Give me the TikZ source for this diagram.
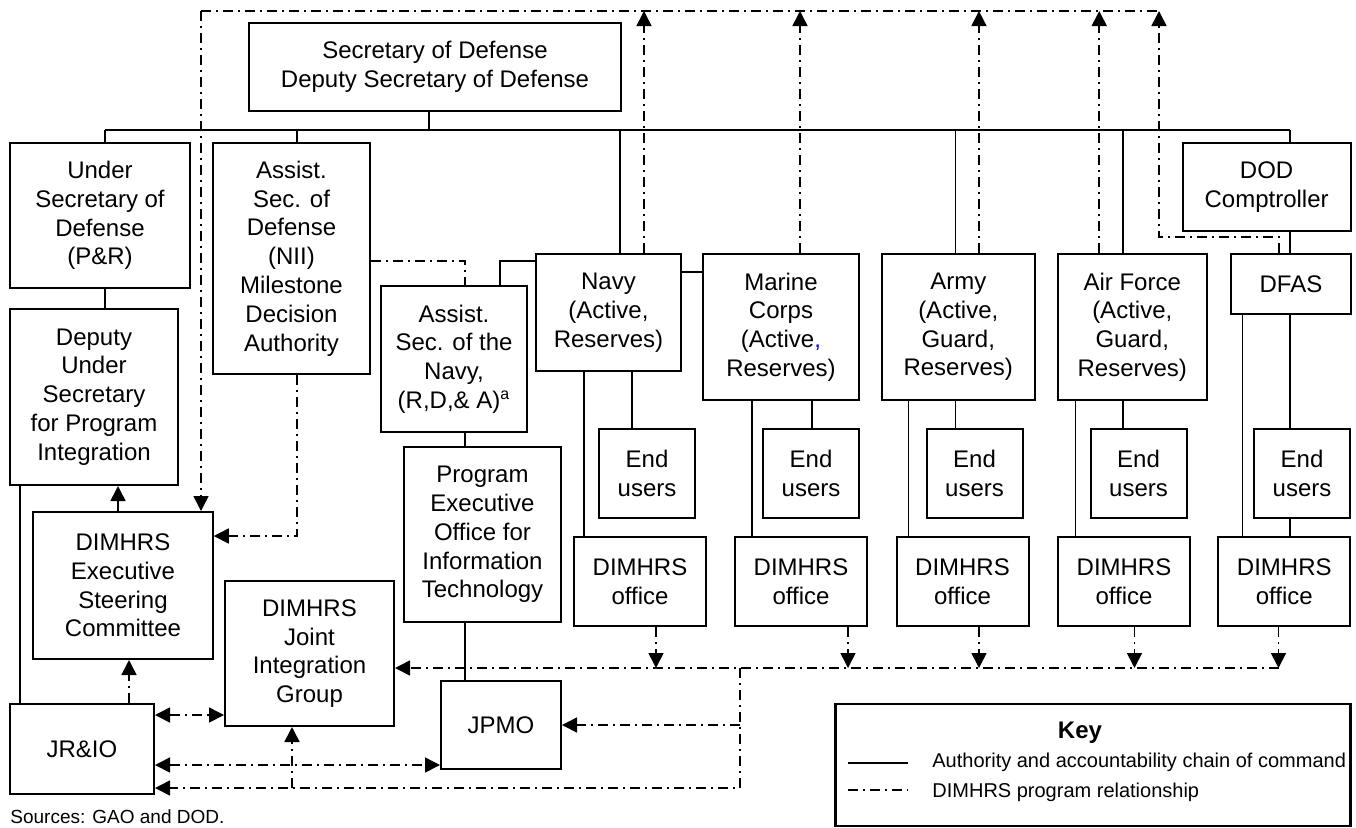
\documentclass[tikz,border=0pt]{standalone}
\usepackage{fontspec}
\setmainfont{Liberation Sans}
\usetikzlibrary{arrows.meta}

\begin{document}
\begin{tikzpicture}[x=0.5pt,y=-0.5pt,
  >={Triangle[length=7.5pt,width=7.5pt]},
  box/.style={draw, line width=1pt, align=center, inner sep=0pt, font=\fontsize{12}{14.4}\selectfont},
  cmd/.style={line width=0.7pt},
  prog/.style={line width=0.8pt, dash pattern=on 5pt off 2.5pt on 1pt off 2.5pt}]
\useasboundingbox (0,0) rectangle (1356,827);

\node[box, minimum width=185.75pt, minimum height=44pt] (sec) at (435,67) {Secretary of Defense\\Deputy Secretary of Defense};
\node[box, minimum width=90pt, minimum height=72.5pt] (usd) at (100,215.5) {Under\\Secretary of\\Defense\\(P\&R)};
\node[box, minimum width=78.5pt, minimum height=115.5pt] (nii) at (291.5,258.5) {Assist.\\Sec. of\\Defense\\(NII)\\Milestone\\Decision\\Authority};
\node[box, minimum width=84pt, minimum height=88pt] (dusd) at (94,397) {Deputy\\Under\\Secretary\\for Program\\Integration};
\node[box, minimum width=89.75pt, minimum height=73.5pt] (esc) at (123,585.5) {DIMHRS\\Executive\\Steering\\Committee};
\node[box, minimum width=84.5pt, minimum height=72.5pt] (jig) at (309.5,653.5) {DIMHRS\\Joint\\Integration\\Group};
\node[box, minimum width=72pt, minimum height=45pt] (jrio) at (82,749) {JR\&IO};
\node[box, minimum width=73pt, minimum height=73pt] (asn) at (454,359) {Assist.\\Sec. of the\\Navy,\\(R,D,\& A)\textsuperscript{a}};
\node[box, minimum width=78.5pt, minimum height=87.5pt] (peo) at (482.5,534.5) {Program\\Executive\\Office for\\Information\\Technology};
\node[box, minimum width=60pt, minimum height=44pt] (jpmo) at (501,725) {JPMO};

\node[box, minimum width=72.5pt, minimum height=58.5pt] (navy) at (608.5,312.5) {Navy\\(Active,\\Reserves)};
\node[box, minimum width=78pt, minimum height=73pt] (marine) at (781,327) {Marine\\Corps\\(Active\textcolor{blue}{,}\\Reserves)};
\node[box, minimum width=76.25pt, minimum height=73pt] (army) at (958.25,327) {Army\\(Active,\\Guard,\\Reserves)};
\node[box, minimum width=74.75pt, minimum height=73pt] (af) at (1132.25,327) {Air Force\\(Active,\\Guard,\\Reserves)};
\node[box, minimum width=59.8pt, minimum height=30pt] (dfas) at (1291,284) {DFAS};
\node[box, minimum width=84pt, minimum height=44pt] (comp) at (1266.6,187) {DOD\\Comptroller};

\foreach \n/\x in {navy/647, marine/811, army/974.5, af/1138.5, dfas/1302}
  \node[box, minimum width=48pt, minimum height=44.5pt] (eu\n) at (\x,473.5) {End\\users};
\foreach \n/\x in {navy/640, marine/801, army/962.5, af/1124, dfas/1284.3}
  \node[box, minimum width=66pt, minimum height=44.5pt] (off\n) at (\x,581.5) {DIMHRS\\office};

% chain of command
\coordinate (busL) at (105,130);
\coordinate (busR) at (1290,130);
\draw[cmd] (busL) -- (busR);
\draw[cmd] ([xshift=-3pt]sec.south) -- ([xshift=-3pt]sec.south |- busL);
\draw[cmd] (busL) -- (busL |- usd.north);
\draw[cmd] (busL |- usd.south) -- (busL |- dusd.north);
\draw[cmd] ([xshift=2.75pt]nii.north) -- ([xshift=2.75pt]nii.north |- busL);
\draw[cmd] ([xshift=5.75pt]navy.north) -- ([xshift=5.75pt]navy.north |- busL);
\draw[cmd] ([xshift=-1.5pt]army.north) -- ([xshift=-1.5pt]army.north |- busL);
\draw[cmd] ([xshift=-4.6pt]af.north) -- ([xshift=-4.6pt]af.north |- busL);
\draw[cmd] (busR) -- (busR |- comp.north);
\draw[cmd] (busR |- comp.south) -- (busR |- dfas.north);
\draw[cmd] ([xshift=5.5pt]dusd.south west) -- ([xshift=5.5pt]jrio.north west);
\coordinate (navyL) at ([yshift=-4pt]navy.north west);
\draw[cmd] (navyL) -| ([xshift=23pt]asn.north);
\draw[cmd] ([yshift=-9.5pt]navy.north east) -- ([yshift=-9.5pt]marine.north west);
\coordinate (peoX) at ([xshift=5.5pt]asn.south);
\draw[cmd] (peoX) -- (peoX |- peo.north);
\draw[cmd] (peoX |- peo.south) -- (peoX |- jpmo.north);
\foreach \n/\a/\b in {navy/-12.25/11.75, marine/-14.6/15.5, army/-25/-1.5, af/-28.5/-4.6, dfas/-24.25/-0.5} {
  \draw[cmd] ([xshift=\a pt]\n.south) -- ([xshift=\a pt]\n.south |- off\n.north);
  \draw[cmd] ([xshift=\b pt]\n.south) -- ([xshift=\b pt]\n.south |- eu\n.north);
}
\draw[cmd] ([xshift=-0.5pt]dfas.south |- eudfas.south) -- ([xshift=-0.5pt]dfas.south |- offdfas.north);

% DIMHRS program relationship
\coordinate (topL) at (201,11);
\coordinate (topR) at (1159,11);
\draw[prog] (topL) -- (topR);
\draw[prog,->] (topL) -- (topL |- esc.north);
\draw[prog,->] ([xshift=17.75pt]navy.north) -- ([xshift=17.75pt]navy.north |- topL);
\draw[prog,->] ([xshift=9.5pt]marine.north) -- ([xshift=9.5pt]marine.north |- topL);
\draw[prog,->] ([xshift=10.35pt]army.north) -- ([xshift=10.35pt]army.north |- topL);
\draw[prog,->] ([xshift=-16.5pt]af.north) -- ([xshift=-16.5pt]af.north |- topL);
\draw[prog,->] ([xshift=-6pt]dfas.north) -- ++(0,-16) -| (topR);
\draw[prog] (nii.east |- navyL) -| (peoX |- asn.north);
\coordinate (niiX) at ([xshift=2.75pt]nii.south);
\draw[prog,->] (niiX) |- ([yshift=-12.5pt]esc.north east);
\draw[prog,->] ([xshift=-2.5pt]esc.north) -- ([xshift=-2.5pt]esc.north |- dusd.south);
\draw[prog,->] ([xshift=23.5pt]jrio.north) -- ([xshift=23.5pt]jrio.north |- esc.south);
\draw[prog,<->] ([yshift=-6pt]jrio.north east) -- ([yshift=-6pt]jrio.north east -| jig.west);
\draw[prog,<->] ([yshift=-31pt]jrio.north east) -- ([yshift=-31pt]jrio.north east -| jpmo.west);
\coordinate (jrioB) at ([yshift=-42.5pt]jrio.north east);
\coordinate (colJ) at (740,668);
\coordinate (colR) at ([xshift=-2.9pt]offdfas.south |- colJ);
\draw[prog,->] (colR) -- (colR -| jig.east);
\draw[prog,->] (colJ) |- (jrioB);
\draw[prog,->] (colJ |- jpmo.east) -- (jpmo.east);
\draw[prog,->] ([xshift=-8.75pt]jig.south |- jrioB) -- ([xshift=-8.75pt]jig.south);
\foreach \n/\a in {navy/8, marine/23.5, army/8.25, af/5.25, dfas/-2.9}
  \draw[prog,->] ([xshift=\a pt]off\n.south) -- ([xshift=\a pt]off\n.south |- colJ);

% key
\node[draw, line width=1.4pt, minimum width=257.5pt, minimum height=61pt] (key) at (1093,765) {};
\node[font=\fontsize{12}{14}\selectfont\bfseries] (keyttl) at (1080,733) {Key};
\coordinate (ka) at (848,763);
\coordinate (kb) at (848,790);
\draw[cmd] (ka) -- ++(60,0);
\draw[prog] (kb) -- ++(60,0);
\node[anchor=west, inner sep=0pt, font=\fontsize{10}{12}\selectfont] (keycmd) at (932,762) {Authority and accountability chain of command};
\node[anchor=west, inner sep=0pt, font=\fontsize{10}{12}\selectfont] (keyprog) at (932,792) {DIMHRS program relationship};

\node[anchor=west, inner sep=0pt, font=\fontsize{9.5}{11}\selectfont] (src) at (10,817) {Sources: GAO and DOD.};
\end{tikzpicture}
\end{document}
